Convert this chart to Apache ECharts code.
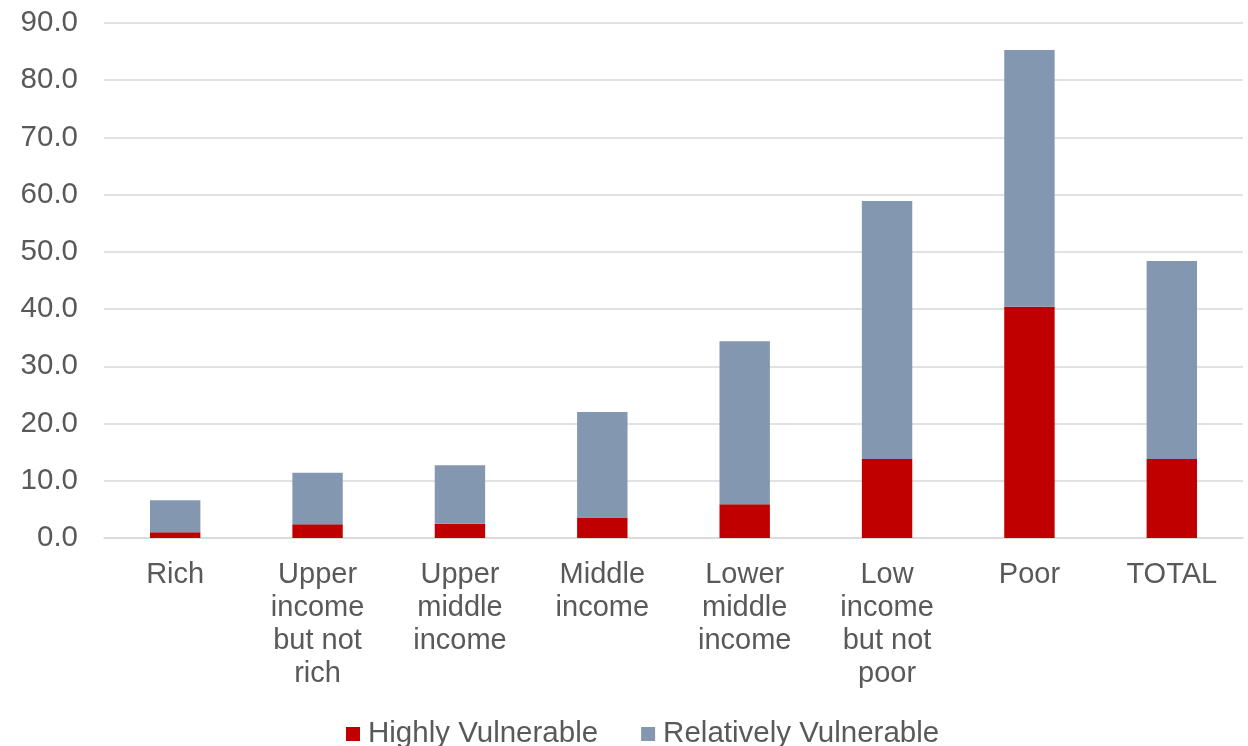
<!DOCTYPE html>
<html>
<head>
<meta charset="utf-8">
<script src="https://cdn.jsdelivr.net/npm/echarts@6/dist/echarts.min.js"></script>
<style>
  html, body { margin: 0; padding: 0; background: #ffffff; }
  #chart { width: 1248px; height: 746px; }
</style>
</head>
<body>
<div id="chart"></div>
<script>
// Income groups along the x axis
const categories = [
  'Rich',
  'Upper\nincome\nbut not\nrich',
  'Upper\nmiddle\nincome',
  'Middle\nincome',
  'Lower\nmiddle\nincome',
  'Low\nincome\nbut not\npoor',
  'Poor',
  'TOTAL'
];

// Share of households in each vulnerability group (%)
const highlyVulnerable = [1.0, 2.4, 2.5, 3.6, 5.9, 13.8, 40.4, 13.8];
const relativelyVulnerable = [5.6, 9.0, 10.2, 18.4, 28.5, 45.1, 44.9, 34.6];

// Value axis ticks
const yMin = 0;
const yMax = 90;
const yStep = 10;

const textColor = '#595959';
const gridColor = '#D9D9D9';
const fontFamily = '"Liberation Sans", Arial, sans-serif';

const chart = echarts.init(document.getElementById('chart'), null, { renderer: 'canvas' });

chart.setOption({
  animation: false,
  textStyle: { fontFamily: fontFamily },
  grid: { left: 104, right: 5, top: 23, bottom: 208, containLabel: false },
  legend: {
    left: 346,
    top: 719,
    padding: 0,
    itemWidth: 14,
    itemHeight: 14,
    itemGap: 43,
    icon: 'rect',
    textStyle: { color: textColor, fontSize: 29.5, fontFamily: fontFamily, padding: [0, 0, 0, 3] },
    data: ['Highly Vulnerable', 'Relatively Vulnerable']
  },
  xAxis: {
    type: 'category',
    data: categories,
    axisTick: { show: false },
    axisLine: { show: true, lineStyle: { color: gridColor, width: 1.5 } },
    axisLabel: {
      color: textColor,
      fontSize: 29,
      lineHeight: 33,
      margin: 20,
      interval: 0,
      align: 'center'
    }
  },
  yAxis: {
    type: 'value',
    min: yMin,
    max: yMax,
    interval: yStep,
    axisLine: { show: false },
    axisTick: { show: false },
    splitLine: { lineStyle: { color: gridColor, width: 1.5 } },
    axisLabel: {
      color: textColor,
      fontSize: 29.5,
      margin: 26,
      formatter: v => v.toFixed(1)
    }
  },
  series: [
    {
      name: 'Highly Vulnerable',
      type: 'bar',
      stack: 'share',
      barWidth: '35.4%',
      data: highlyVulnerable,
      itemStyle: { color: '#C00000' }
    },
    {
      name: 'Relatively Vulnerable',
      type: 'bar',
      stack: 'share',
      barWidth: '35.4%',
      data: relativelyVulnerable,
      itemStyle: { color: '#8497B0' }
    }
  ]
});
</script>
</body>
</html>
